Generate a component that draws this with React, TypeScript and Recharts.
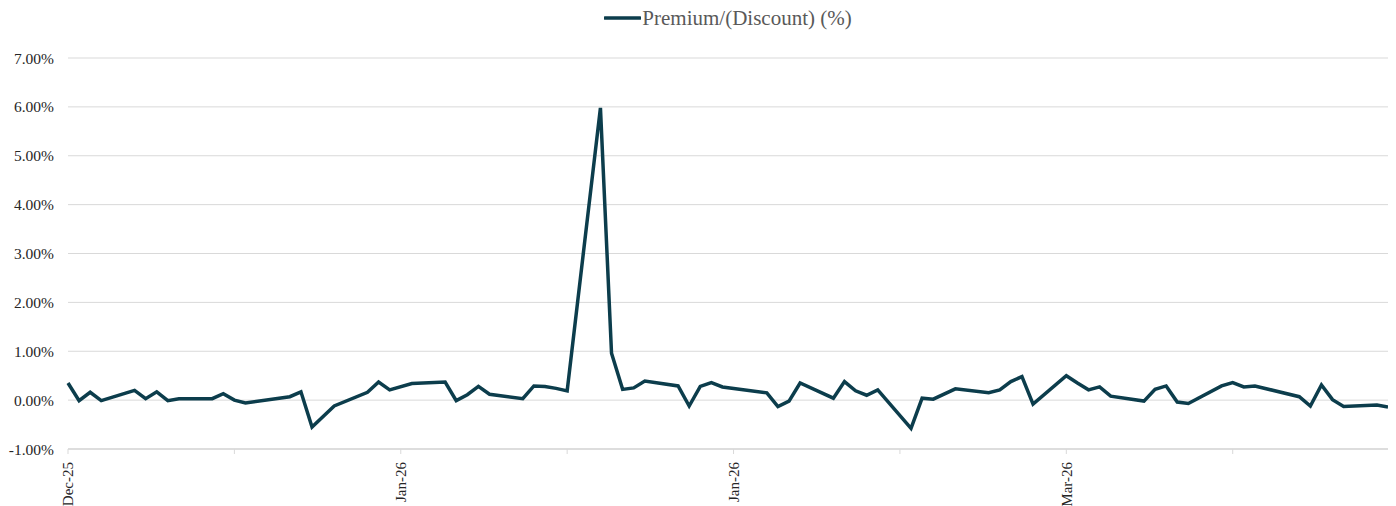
import React from "react";
import { LineChart, Line, XAxis, YAxis, CartesianGrid, Legend } from "recharts";

// Day offsets from 2 Dec 2025 (trading days shown in the chart)
const dayOffsets = [
  0, 1, 2, 3, 6, 7, 8, 9, 10, 13, 14, 15, 16, 20, 21, 22, 24, 27, 28, 29,
  31, 34, 35, 36, 37, 38, 41, 42, 43, 44, 45, 48, 49, 50, 51, 52, 55, 56, 57, 58,
  59, 63, 64, 65, 66, 69, 70, 71, 72, 73, 76, 77, 78, 80, 83, 84, 85, 86, 87, 90,
  91, 92, 93, 94, 97, 98, 99, 100, 101, 104, 105, 106, 107, 111, 112, 113, 114, 115, 118, 119,
];

// Premium/(Discount) in percent
const premiumValues = [
  0.35, -0.01, 0.16, -0.01, 0.2, 0.03, 0.17, -0.01, 0.03, 0.03, 0.13, 0.0, -0.06, 0.07, 0.17, -0.55, -0.12, 0.16, 0.37, 0.21,
  0.34, 0.37, -0.01, 0.11, 0.28, 0.12, 0.03, 0.29, 0.28, 0.24, 0.19, 5.98, 0.96, 0.22, 0.25, 0.39, 0.29, -0.12, 0.28, 0.36,
  0.27, 0.15, -0.13, -0.02, 0.35, 0.04, 0.38, 0.19, 0.1, 0.21, -0.58, 0.04, 0.02, 0.23, 0.15, 0.21, 0.38, 0.48, -0.08, 0.5,
  0.35, 0.21, 0.27, 0.08, -0.02, 0.22, 0.29, -0.04, -0.07, 0.29, 0.36, 0.27, 0.29, 0.07, -0.12, 0.31, 0.01, -0.13, -0.1, -0.14,
];

const xTickPositions = [0, 15, 30, 45, 60, 75, 90, 105];
const xTickLabels = ["Dec-25", "", "Jan-26", "", "Jan-26", "", "Mar-26", ""];
const yTicks = [-1, 0, 1, 2, 3, 4, 5, 6, 7];

const seriesName = "Premium/(Discount) (%)";
const lineColor = "#0c3d4c";
const fontFamily = '"Liberation Serif", "Times New Roman", serif';

const data = dayOffsets.map((d, i) => ({ day: d, value: premiumValues[i] }));

const XTick = (props: any) => {
  const { x, y, payload } = props;
  const idx = xTickPositions.indexOf(payload.value);
  const label = idx >= 0 ? xTickLabels[idx] : "";
  if (!label) return null;
  return (
    <text
      x={x}
      y={y}
      transform={`rotate(-90, ${x}, ${y})`}
      textAnchor="end"
      dy="0.35em"
      fontSize={15}
      fontFamily={fontFamily}
      fill="#262626"
    >
      {label}
    </text>
  );
};

const LegendContent = () => (
  <div
    style={{
      display: "flex",
      justifyContent: "center",
      alignItems: "center",
      height: 20,
      fontFamily,
      fontSize: 21,
      color: "#595959",
    }}
  >
    <svg width={37} height={6} style={{ marginRight: 1 }}>
      <line x1={1} y1={3} x2={36} y2={3} stroke={lineColor} strokeWidth={3.5} strokeLinecap="round" />
    </svg>
    <span>{seriesName}</span>
  </div>
);

export default function App() {
  return (
    <div style={{ width: 1388, height: 498 }}>
      <LineChart
        width={1388}
        height={498}
        data={data}
        margin={{ top: 8, right: 8, bottom: 0, left: 0 }}
      >
        <CartesianGrid vertical={false} stroke="#d9d9d9" strokeWidth={1} />
        <Legend
          verticalAlign="top"
          height={42}
          content={<LegendContent />}
          wrapperStyle={{ top: 0, left: 60, width: 1320 }}
        />
        <XAxis
          dataKey="day"
          type="number"
          domain={[0, 119]}
          ticks={xTickPositions}
          interval={0}
          height={57}
          axisLine={{ stroke: "#d9d9d9", strokeWidth: 1.5 }}
          tickLine={{ stroke: "#d9d9d9" }}
          tickSize={5}
          tickMargin={8}
          tick={<XTick />}
        />
        <YAxis
          type="number"
          domain={[-1, 7]}
          ticks={yTicks}
          interval={0}
          width={60}
          axisLine={false}
          tickLine={false}
          tickSize={0}
          tickMargin={14}
          tickFormatter={(v: number) => `${v.toFixed(2)}%`}
          tick={{ fontSize: 15.5, fontFamily, fill: "#262626" }}
        />
        <Line
          type="linear"
          dataKey="value"
          name={seriesName}
          stroke={lineColor}
          strokeWidth={3.5}
          dot={false}
          isAnimationActive={false}
        />
      </LineChart>
    </div>
  );
}
